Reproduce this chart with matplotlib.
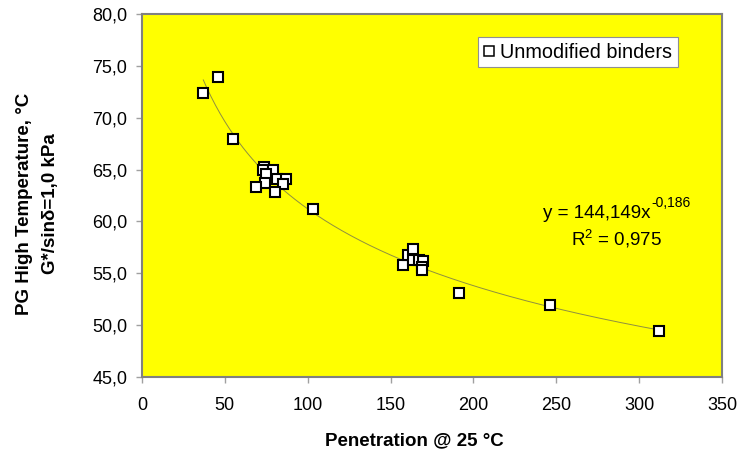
import numpy as np
import matplotlib
matplotlib.use("Agg")
import matplotlib.pyplot as plt
from matplotlib.ticker import FuncFormatter

plt.rcParams['font.family'] = ['Liberation Sans', 'DejaVu Sans']
plt.rcParams['mathtext.fontset'] = 'custom'
plt.rcParams['mathtext.rm'] = 'Liberation Sans'
plt.rcParams['mathtext.it'] = 'Liberation Sans:italic'
plt.rcParams['mathtext.bf'] = 'Liberation Sans:bold'

# Data: penetration @ 25 C vs PG high temperature
penetration = [37, 46, 55, 73.7, 72.8, 79.3, 74.8, 81.3, 86.9, 85.2, 74.2, 68.8, 80.1, 103.4,
               157.3, 160.7, 163.7, 163.4, 167.4, 169.8, 168.8, 168.8, 191.5, 246.2, 312]
pg_high = [72.4, 73.9, 67.9, 65.2, 65.0, 65.0, 64.6, 64.1, 64.1, 63.6, 63.7, 63.3, 62.8, 61.2,
           55.8, 56.8, 57.3, 56.3, 56.3, 56.2, 55.6, 55.3, 53.1, 51.9, 49.4]
fit_a = 144.149
fit_b = -0.186
r2 = 0.975
x_ticks = [0, 50, 100, 150, 200, 250, 300, 350]
y_ticks = [45, 50, 55, 60, 65, 70, 75, 80]

W, H = 741, 458
fig = plt.figure(figsize=(W / 100, H / 100), dpi=100)
ax = fig.add_axes([142 / W, 1 - 377 / H, 580 / W, 363 / H])
ax.set_facecolor('#ffff00')

xf = np.linspace(min(penetration), max(penetration), 300)
ax.plot(xf, fit_a * xf ** fit_b, color='#8f8f40', lw=0.7, zorder=2)
ax.plot(penetration, pg_high, ls='none', marker='s', ms=7.3, mfc='white', mec='black',
        mew=1.5, label='Unmodified binders', zorder=3)

ax.set_xlim(0, 350)
ax.set_ylim(45, 80)
ax.set_xticks(x_ticks)
ax.set_yticks(y_ticks)
ax.yaxis.set_major_formatter(FuncFormatter(lambda v, p: f"{v:.1f}".replace('.', ',')))
ax.tick_params(axis='both', direction='out', length=4.2, width=1, color='#a0a0a0',
               labelsize=13)
ax.tick_params(axis='y', pad=6.5)
ax.tick_params(axis='x', pad=10.5)
for s in ax.spines.values():
    s.set_color('#808080')
    s.set_linewidth(1.5)

leg = ax.legend(loc='upper right', bbox_to_anchor=(0.924, 0.9366), borderaxespad=0,
                fontsize=14.3, handlelength=0.56, handletextpad=0.27, borderpad=0.28,
                fancybox=False, framealpha=1, edgecolor='#909090')
leg.get_frame().set_linewidth(0.8)
for h in leg.legend_handles:
    h.set_markeredgewidth(1.1)
    h.set_markersize(7.2)

eq = fig.text(543 / W, 1 - 218 / H, f'y = {fit_a:.3f}x'.replace('.', ','), ha='left',
              va='baseline', fontsize=13.5)
ax.annotate(f'{fit_b:.3f}'.replace('.', ','), xy=(1, H - 207), xycoords=(eq, 'figure pixels'),
            xytext=(0.5, 0), textcoords='offset points', ha='left', va='baseline', fontsize=10)
fig.text(617 / W, 1 - 246 / H, 'R$^{\\mathrm{2}}$ = ' + f'{r2:.3f}'.replace('.', ','),
         ha='center', va='baseline', fontsize=13.5)

fig.text(414 / W, 1 - 445 / H, 'Penetration @ 25 °C', ha='center', va='baseline',
         fontsize=13.5, fontweight='bold')
fig.text(25 / W, 1 - 204 / H, 'PG High Temperature, °C', ha='center', va='center',
         rotation=90, fontsize=13.5, fontweight='bold')
fig.text(50 / W, 1 - 204 / H, 'G*/sinδ=1,0 kPa', ha='center', va='center',
         rotation=90, fontsize=13.5, fontweight='bold')

fig.savefig('out.png', dpi=100)
